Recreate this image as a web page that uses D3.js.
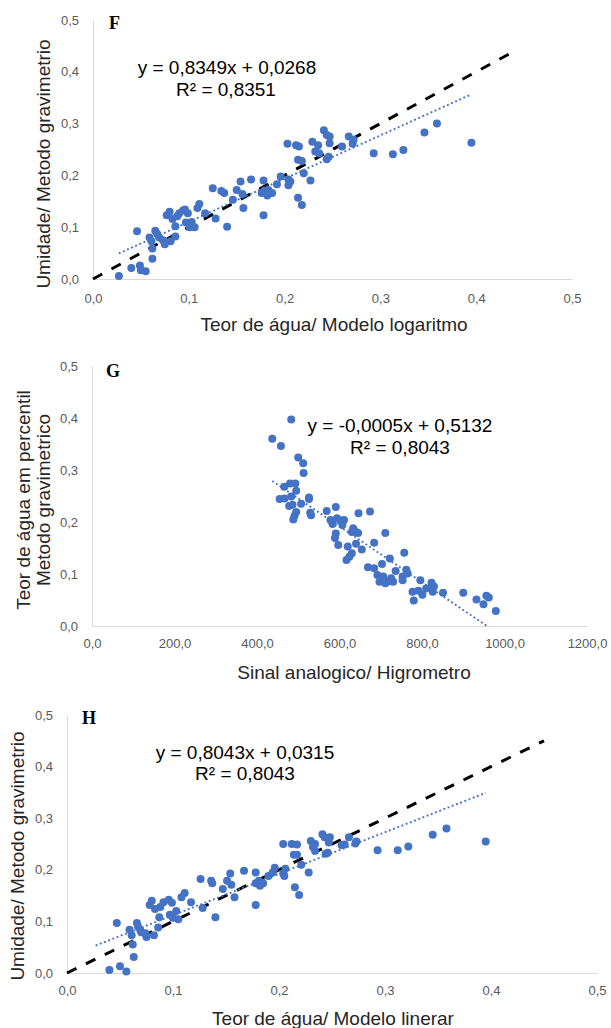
<!DOCTYPE html>
<html>
<head>
<meta charset="utf-8">
<script src="https://cdn.jsdelivr.net/npm/d3@7"></script>
<style>
  body { margin: 0; background: #fff; }
  svg { display: block; }
</style>
</head>
<body>
<svg id="chart" width="611" height="1028"></svg>
<script>
// panel F: logarithmic model vs gravimetric
var fX = [0.027, 0.040, 0.046, 0.049, 0.050, 0.055, 0.059, 0.061, 0.062, 0.062, 0.065, 0.067, 0.069, 0.073, 0.075,
  0.077, 0.080, 0.081, 0.083, 0.086, 0.086, 0.088, 0.090, 0.094, 0.096, 0.097, 0.099, 0.101, 0.103, 0.106,
  0.109, 0.111, 0.117, 0.125, 0.128, 0.134, 0.137, 0.140, 0.146, 0.150, 0.154, 0.156, 0.157, 0.165, 0.178,
  0.178, 0.176, 0.179, 0.182, 0.183, 0.187, 0.192, 0.196, 0.203, 0.204, 0.204, 0.206, 0.212, 0.215, 0.214,
  0.218, 0.214, 0.218, 0.220, 0.227, 0.229, 0.232, 0.235, 0.236, 0.241, 0.244, 0.244, 0.246, 0.247, 0.247,
  0.260, 0.267, 0.271, 0.272, 0.293, 0.313, 0.324, 0.346, 0.359, 0.395];
var fY = [0.006, 0.021, 0.092, 0.026, 0.017, 0.015, 0.080, 0.073, 0.059, 0.039, 0.093, 0.087, 0.080, 0.075, 0.067,
  0.123, 0.130, 0.073, 0.116, 0.082, 0.102, 0.121, 0.127, 0.132, 0.134, 0.109, 0.127, 0.100, 0.110, 0.100,
  0.137, 0.145, 0.127, 0.175, 0.117, 0.170, 0.166, 0.101, 0.153, 0.172, 0.188, 0.164, 0.137, 0.192, 0.123,
  0.190, 0.166, 0.171, 0.161, 0.172, 0.166, 0.183, 0.198, 0.261, 0.192, 0.181, 0.188, 0.258, 0.256, 0.230,
  0.228, 0.157, 0.143, 0.204, 0.190, 0.265, 0.246, 0.258, 0.243, 0.287, 0.278, 0.231, 0.236, 0.262, 0.275,
  0.256, 0.275, 0.261, 0.269, 0.243, 0.241, 0.249, 0.283, 0.300, 0.263];

// panel G: analog signal vs gravimetric
var gX = [437, 458, 483, 500, 512, 513, 466, 480, 493, 495, 455, 467, 483, 486, 478, 507, 526, 526, 495, 491,
  488, 529, 531, 569, 591, 578, 583, 594, 602, 607, 611, 591, 589, 597, 633, 640, 645, 630, 646, 674,
  620, 640, 654, 630, 624, 617, 684, 711, 669, 684, 703, 722, 757, 692, 706, 697, 716, 725, 730, 711,
  736, 753, 753, 762, 765, 777, 780, 796, 791, 801, 810, 823, 826, 829, 851, 900, 932, 949, 956, 962, 979];
var gY = [0.360, 0.346, 0.397, 0.324, 0.313, 0.294, 0.268, 0.274, 0.274, 0.260, 0.244, 0.245, 0.249, 0.233, 0.231,
  0.235, 0.247, 0.244, 0.219, 0.212, 0.205, 0.218, 0.213, 0.221, 0.229, 0.204, 0.196, 0.207, 0.203, 0.194,
  0.204, 0.178, 0.169, 0.156, 0.188, 0.181, 0.179, 0.181, 0.217, 0.220, 0.153, 0.158, 0.147, 0.140, 0.133,
  0.127, 0.160, 0.179, 0.113, 0.111, 0.119, 0.130, 0.141, 0.098, 0.095, 0.085, 0.085, 0.092, 0.085, 0.082,
  0.106, 0.095, 0.088, 0.108, 0.101, 0.066, 0.049, 0.088, 0.068, 0.060, 0.072, 0.083, 0.066, 0.076, 0.064,
  0.064, 0.051, 0.042, 0.058, 0.055, 0.029];

// panel H: linear model vs gravimetric
var hX = [0.040, 0.047, 0.050, 0.056, 0.059, 0.061, 0.062, 0.063, 0.066, 0.067, 0.069, 0.070, 0.074, 0.075, 0.080,
  0.078, 0.082, 0.083, 0.086, 0.087, 0.088, 0.091, 0.096, 0.097, 0.099, 0.100, 0.103, 0.105, 0.108, 0.111,
  0.117, 0.126, 0.128, 0.136, 0.137, 0.140, 0.147, 0.151, 0.154, 0.155, 0.158, 0.167, 0.178, 0.178, 0.178,
  0.181, 0.182, 0.185, 0.190, 0.194, 0.196, 0.204, 0.204, 0.205, 0.206, 0.212, 0.217, 0.214, 0.217, 0.215,
  0.219, 0.221, 0.228, 0.230, 0.232, 0.234, 0.234, 0.241, 0.243, 0.244, 0.246, 0.247, 0.248, 0.259, 0.262,
  0.266, 0.272, 0.273, 0.293, 0.312, 0.322, 0.345, 0.358, 0.395];
var hY = [0.006, 0.097, 0.013, 0.003, 0.084, 0.073, 0.055, 0.031, 0.097, 0.090, 0.084, 0.079, 0.077, 0.070, 0.140,
  0.132, 0.073, 0.124, 0.088, 0.108, 0.128, 0.137, 0.142, 0.113, 0.136, 0.107, 0.120, 0.104, 0.147, 0.155,
  0.137, 0.182, 0.126, 0.179, 0.174, 0.108, 0.163, 0.179, 0.193, 0.171, 0.147, 0.198, 0.132, 0.195, 0.174,
  0.179, 0.169, 0.174, 0.188, 0.195, 0.204, 0.250, 0.193, 0.188, 0.202, 0.250, 0.249, 0.229, 0.229, 0.166,
  0.151, 0.210, 0.195, 0.256, 0.244, 0.250, 0.237, 0.269, 0.263, 0.231, 0.233, 0.253, 0.263, 0.248, 0.249,
  0.263, 0.251, 0.255, 0.238, 0.238, 0.245, 0.268, 0.280, 0.255];

// trendline coefficients, x span of each trendline, 1:1 reference extents
var fTrend = [0.8349, 0.0268];
var gTrend = [-0.000536, 0.5132];
var hTrend = [0.8043, 0.0315];
var fSpan = [0.027, 0.395];
var gSpan = [437, 979];
var hSpan = [0.027, 0.395];
var fRef = [0, 0.443];
var hRef = [0, 0.45];

var yTicks = [0, 0.1, 0.2, 0.3, 0.4, 0.5];
var fxTicks = [0, 0.1, 0.2, 0.3, 0.4, 0.5];
var gxTicks = [0, 200, 400, 600, 800, 1000, 1200];

var blue = "#4472c4";
var svg = d3.select("#chart");

function comma(d) {
  return d3.format(".1f")(d).replace(".", ",");
}

function panel(p) {
  var x = d3.scaleLinear().domain(p.xDomain).range([p.left, p.right]);
  var y = d3.scaleLinear().domain([0, 0.5]).range([p.bottom, p.top]);
  var g = svg.append("g");

  var xa = g.append("g")
    .attr("transform", "translate(0," + p.bottom + ")")
    .call(d3.axisBottom(x).tickValues(p.xTicks).tickFormat(comma).tickSize(0).tickPadding(p.xPad));
  var ya = g.append("g")
    .attr("transform", "translate(" + p.left + ",0)")
    .call(d3.axisLeft(y).tickValues(yTicks).tickFormat(comma).tickSize(0).tickPadding(14));
  [xa, ya].forEach(function(a) {
    a.select(".domain").attr("stroke", "#d9d9d9");
    a.selectAll("text")
      .attr("font-family", "Liberation Sans, Arial, sans-serif")
      .attr("font-size", 13)
      .attr("fill", "#595959");
  });

  // 1:1 dashed line
  if (p.ref) {
    g.append("line")
      .attr("x1", x(p.ref[0])).attr("y1", y(p.ref[0]))
      .attr("x2", x(p.ref[1])).attr("y2", y(p.ref[1]))
      .attr("stroke", "#000").attr("stroke-width", 3)
      .attr("stroke-dasharray", "10.5,10.5");
  }

  var pts = p.xs.map(function(v, i) { return [v, p.ys[i]]; });

  g.append("g")
    .selectAll("circle")
    .data(pts)
    .join("circle")
    .attr("cx", d => x(d[0]))
    .attr("cy", d => y(d[1]))
    .attr("r", 4)
    .attr("fill", blue);

  // dotted trendline, clipped at y = 0
  var x0 = p.span[0], x1 = p.span[1];
  var f = d => p.trend[0] * d + p.trend[1];
  if (f(x1) < 0) x1 = -p.trend[1] / p.trend[0];
  g.append("line")
    .attr("x1", x(x0)).attr("y1", y(f(x0)))
    .attr("x2", x(x1)).attr("y2", y(f(x1)))
    .attr("stroke", blue).attr("stroke-width", 1.9)
    .attr("stroke-dasharray", "1.9,2.6");

  // equation labels
  var eq = g.append("g")
    .attr("font-family", "Liberation Sans, Arial, sans-serif")
    .attr("font-size", 19)
    .attr("text-anchor", "middle")
    .attr("fill", "#000");
  p.eq.forEach(function(e) {
    eq.append("text").attr("x", e[1]).attr("y", e[2]).attr("dy", "0.35em").text(e[0]);
  });

  g.append("text")
    .attr("x", p.letter[0]).attr("y", p.letter[1])
    .attr("font-family", "Liberation Serif, Times New Roman, serif")
    .attr("font-weight", "bold")
    .attr("font-size", 18)
    .text(p.letter[2]);

  var t = g.append("g")
    .attr("font-family", "Liberation Sans, Arial, sans-serif")
    .attr("font-size", 19)
    .attr("text-anchor", "middle")
    .attr("fill", "#262626");
  t.append("text")
    .attr("x", p.xTitle[1]).attr("y", p.xTitle[2]).attr("dy", "0.35em")
    .text(p.xTitle[0]);
  p.yTitle.forEach(function(l) {
    t.append("text")
      .attr("transform", "translate(" + l[1] + "," + l[2] + ") rotate(-90)")
      .attr("dy", "0.35em")
      .text(l[0]);
  });
}

panel({
  left: 93, right: 572, top: 20, bottom: 279, xPad: 15,
  xDomain: [0, 0.5], xTicks: fxTicks,
  xs: fX, ys: fY, trend: fTrend, span: fSpan, ref: fRef,
  eq: [["y = 0,8349x + 0,0268", 227, 67], ["R\u00b2 = 0,8351", 226, 89]],
  letter: [109, 29, "F"],
  xTitle: ["Teor de \u00e1gua/ Modelo logaritmo", 334, 324],
  yTitle: [["Umidade/ Metodo gravimetrio", 43, 164]]
});

panel({
  left: 92, right: 587, top: 366, bottom: 626, xPad: 13,
  xDomain: [0, 1200], xTicks: gxTicks,
  xs: gX, ys: gY, trend: gTrend, span: gSpan, ref: null,
  eq: [["y = -0,0005x + 0,5132", 400, 425], ["R\u00b2 = 0,8043", 400, 447]],
  letter: [106, 377, "G"],
  xTitle: ["Sinal analogico/ Higrometro", 354, 672],
  yTitle: [["Teor de \u00e1gua em percentil", 23, 500], ["Metodo gravimetrico", 43, 500]]
});

panel({
  left: 67, right: 597, top: 715, bottom: 973, xPad: 13,
  xDomain: [0, 0.5], xTicks: fxTicks,
  xs: hX, ys: hY, trend: hTrend, span: hSpan, ref: hRef,
  eq: [["y = 0,8043x + 0,0315", 245, 752], ["R\u00b2 = 0,8043", 245, 773]],
  letter: [82, 724, "H"],
  xTitle: ["Teor de \u00e1gua/ Modelo linerar", 333, 1018],
  yTitle: [["Umidade/ Metodo gravimetrio", 17, 856]]
});
</script>
</body>
</html>
